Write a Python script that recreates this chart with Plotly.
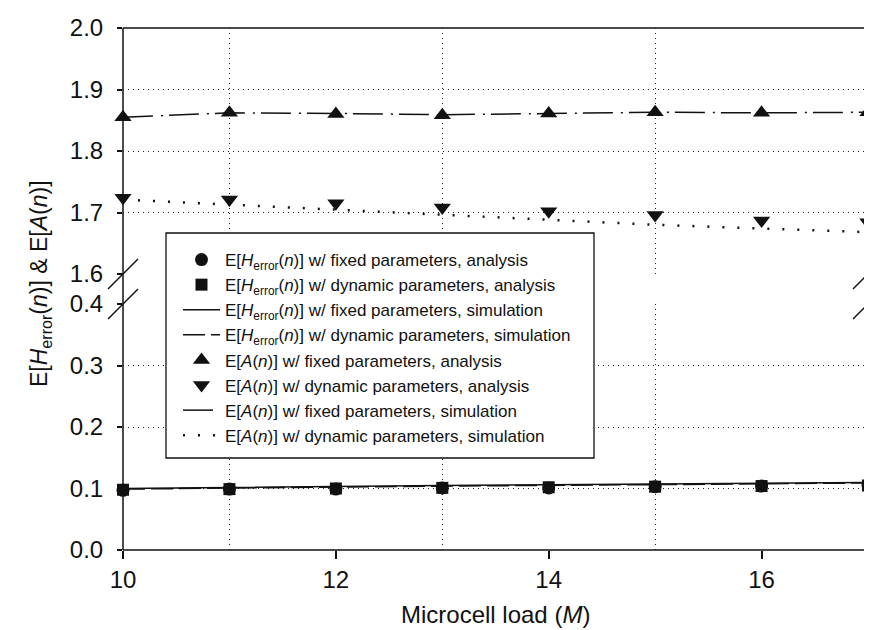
import plotly.graph_objects as go

# ---------------- data ----------------
load_M = [10, 11, 12, 13, 14, 15, 16, 17]

h_fixed_analysis = [0.097, 0.099, 0.099, 0.101, 0.101, 0.103, 0.104, 0.105]
h_dynamic_analysis = [0.098, 0.099, 0.100, 0.101, 0.102, 0.103, 0.104, 0.105]
h_fixed_simulation = [0.100, 0.102, 0.104, 0.105, 0.106, 0.107, 0.108, 0.110]
h_dynamic_simulation = [0.099, 0.101, 0.103, 0.104, 0.105, 0.106, 0.108, 0.109]

a_fixed_analysis = [1.855, 1.862, 1.860, 1.858, 1.861, 1.863, 1.862, 1.863]
a_dynamic_analysis = [1.724, 1.721, 1.715, 1.708, 1.702, 1.696, 1.687, 1.684]
a_fixed_simulation = [1.855, 1.862, 1.861, 1.859, 1.861, 1.863, 1.862, 1.863]
a_dynamic_simulation = [1.721, 1.713, 1.705, 1.697, 1.688, 1.680, 1.674, 1.668]

x_ticks = [10, 12, 14, 16]
x_grid = [11, 13, 15]
y_low_ticks = [0.0, 0.1, 0.2, 0.3, 0.4]
y_high_ticks = [1.6, 1.7, 1.8, 1.9, 2.0]

H = "E[<i>H</i><sub>error</sub>(<i>n</i>)]"
A = "E[<i>A</i>(<i>n</i>)]"
names = [
    H + " w/ fixed parameters, analysis",
    H + " w/ dynamic parameters, analysis",
    H + " w/ fixed parameters, simulation",
    H + " w/ dynamic parameters, simulation",
    A + " w/ fixed parameters, analysis",
    A + " w/ dynamic parameters, analysis",
    A + " w/ fixed parameters, simulation",
    A + " w/ dynamic parameters, simulation",
]

FONT = "Liberation Sans, Arial, sans-serif"
BLACK = "#111111"
GRID = "#222222"

fig = go.Figure()

def add(y, name, yaxis, mode, marker=None, line=None):
    fig.add_trace(go.Scatter(
        x=load_M, y=y, name=name, mode=mode, xaxis="x", yaxis=yaxis,
        marker=marker, line=line, cliponaxis=False,
    ))

add(h_fixed_analysis, names[0], "y", "markers",
    marker=dict(symbol="circle", size=13, color=BLACK))
add(h_dynamic_analysis, names[1], "y", "markers",
    marker=dict(symbol="square", size=12, color=BLACK))
add(h_fixed_simulation, names[2], "y", "lines",
    line=dict(color=BLACK, width=1.5, dash="solid"))
add(h_dynamic_simulation, names[3], "y", "lines",
    line=dict(color=BLACK, width=1.5, dash="22px,6px"))
add(a_fixed_analysis, names[4], "y2", "markers",
    marker=dict(symbol="triangle-up", size=15, color=BLACK))
add(a_dynamic_analysis, names[5], "y2", "markers",
    marker=dict(symbol="triangle-down", size=15, color=BLACK))
add(a_fixed_simulation, names[6], "y2", "lines",
    line=dict(color=BLACK, width=1.5, dash="30px,8px,2px,6px"))
add(a_dynamic_simulation, names[7], "y2", "lines",
    line=dict(color=BLACK, width=2.5, dash="2px,13px"))

W, Hh = 872, 630
ml, mr, mt, mb = 115, 12, 20, 88
pw, ph = W - ml - mr, Hh - mt - mb
seg = 246 / ph
low_dom = [0, seg]
high_dom = [1 - seg, 1]

def px_x(px):
    return (px - ml) / pw

def px_y(py):
    return (Hh - mb - py) / ph

grid_common = dict(showgrid=True, gridcolor=GRID, gridwidth=1, griddash="1px,4px")

yaxis_common = dict(
    ticks="outside", ticklen=5, tickwidth=1.5, tickcolor=BLACK,
    showline=False, zeroline=False, tickformat=".1f", automargin=False,
    ticklabelstandoff=9,
    tickfont=dict(family=FONT, size=24, color=BLACK),
    **grid_common,
)

fig.update_layout(
    width=W, height=Hh,
    margin=dict(l=ml, r=mr, t=mt, b=mb),
    paper_bgcolor="white", plot_bgcolor="white",
    font=dict(family=FONT, color=BLACK),
    showlegend=True,
    legend=dict(
        x=px_x(170), y=px_y(234), xanchor="left", yanchor="top",
        bgcolor="rgba(0,0,0,0)", borderwidth=0,
        font=dict(family=FONT, size=17, color=BLACK),
        itemwidth=37,
    ),
    xaxis=dict(
        range=[10, 17], anchor="y", tickvals=x_ticks, automargin=False,
        ticks="outside", ticklen=8, tickwidth=1.5, tickcolor=BLACK,
        showline=False, zeroline=False, showgrid=False,
        tickfont=dict(family=FONT, size=24, color=BLACK),
        minor=dict(tickvals=x_grid, showgrid=True, gridcolor=GRID,
                   gridwidth=1, griddash="1px,4px", ticks=""),
    ),
    yaxis=dict(domain=low_dom, range=[0, 0.4], tickvals=y_low_ticks, anchor="x",
               **yaxis_common),
    yaxis2=dict(domain=high_dom, range=[1.6, 2.0], tickvals=y_high_ticks, anchor="x",
                **yaxis_common),
)

# frame
lw = 1.5
for x0, y0, x1, y1 in [(0, 0, 0, 1), (1, 0, 1, 1), (0, 0, 1, 0), (0, 1, 1, 1)]:
    fig.add_shape(type="line", xref="paper", yref="paper", x0=x0, y0=y0, x1=x1, y1=y1,
                  line=dict(color=BLACK, width=lw), layer="below")

# legend box
fig.add_shape(type="rect", xref="paper", yref="paper",
              x0=px_x(158), x1=px_x(586), y0=px_y(450), y1=px_y(225),
              fillcolor="white", line=dict(color=BLACK, width=1.3), layer="above")

# axis-break slashes
dx, dy = 15 / pw, 15 / ph
for xc in (0, 1):
    for yc in (high_dom[0], low_dom[1]):
        fig.add_shape(type="line", xref="paper", yref="paper",
                      x0=xc - dx, y0=yc - dy, x1=xc + dx, y1=yc + dy,
                      line=dict(color=BLACK, width=1.5), layer="above")

# axis titles
fig.add_annotation(
    text="E[<i>H</i><sub>error</sub>(<i>n</i>)] & E[<i>A</i>(<i>n</i>)]",
    xref="paper", yref="paper", x=px_x(32), y=px_y(276),
    xanchor="center", yanchor="middle", textangle=-90, showarrow=False,
    font=dict(family=FONT, size=23, color=BLACK),
)
fig.add_annotation(
    text="Microcell load (<i>M</i>)",
    xref="paper", yref="paper", x=0.5, y=px_y(606),
    xanchor="center", yanchor="middle", showarrow=False,
    font=dict(family=FONT, size=24, color=BLACK),
)

fig.write_html("out.html")
